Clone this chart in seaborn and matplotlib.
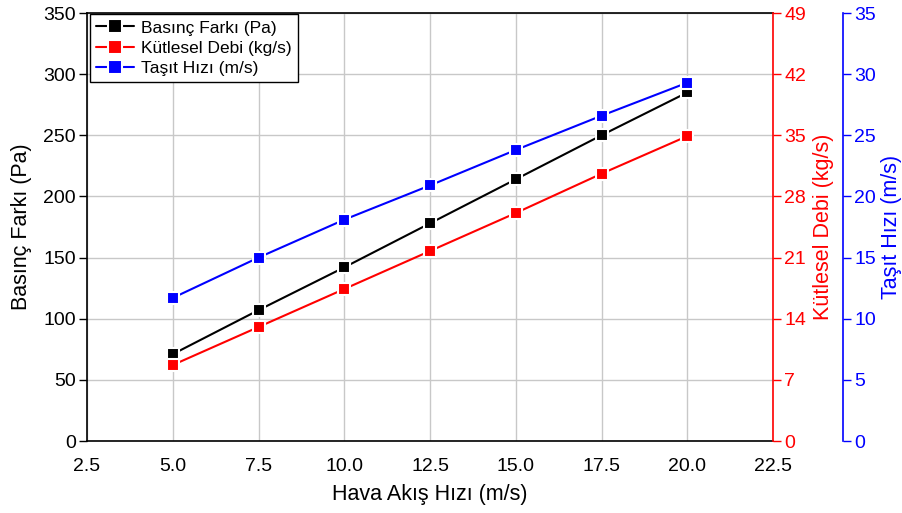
import matplotlib
matplotlib.use("Agg")
import matplotlib.pyplot as plt
import seaborn as sns
import pandas as pd
from matplotlib.lines import Line2D

hava = [5.0, 7.5, 10.0, 12.5, 15.0, 17.5, 20.0]
basinc = [71, 107, 142, 178, 214, 250, 285]
debi = [8.7, 13.05, 17.4, 21.75, 26.1, 30.6, 34.9]
tasit = [11.7, 15.0, 18.1, 20.9, 23.8, 26.6, 29.3]

xticks = [2.5, 5.0, 7.5, 10.0, 12.5, 15.0, 17.5, 20.0, 22.5]
y1ticks = [0, 50, 100, 150, 200, 250, 300, 350]
y2ticks = [0, 7, 14, 21, 28, 35, 42, 49]
y3ticks = [0, 5, 10, 15, 20, 25, 30, 35]

sns.set_style("white")
plt.rcParams['font.family'] = ['Liberation Sans', 'DejaVu Sans']
plt.rcParams['text.color'] = 'black'
plt.rcParams['axes.labelcolor'] = 'black'

df = pd.DataFrame({"hava": hava, "basinc": basinc, "debi": debi, "tasit": tasit})

fig = plt.figure(figsize=(9.02, 5.13), dpi=100)
ax = fig.add_axes([87/902, 1 - 441/513, 686/902, 428/513])
ax2 = ax.twinx()
ax3 = ax.twinx()
ax3.spines['right'].set_position(('axes', 1.102))

mk = dict(marker='s', markersize=8, markeredgecolor='white', markeredgewidth=1.5, linewidth=1.5)
sns.lineplot(data=df, x="hava", y="basinc", ax=ax, color='black', **mk)
sns.lineplot(data=df, x="hava", y="debi", ax=ax2, color='red', **mk)
sns.lineplot(data=df, x="hava", y="tasit", ax=ax3, color='blue', **mk)

ax.set_xlim(2.5, 22.5)
ax.set_ylim(0, 350)
ax2.set_ylim(0, 49)
ax3.set_ylim(0, 35)
ax.set_xticks(xticks)
ax.set_xticklabels([f"{v:.1f}" for v in xticks])
ax.set_yticks(y1ticks)
ax2.set_yticks(y2ticks)
ax3.set_yticks(y3ticks)

ax.grid(True, color='#c8c8c8', linewidth=1)
ax.set_axisbelow(True)

fs = 14
tl = 6
ax.tick_params(axis='both', direction='out', length=tl, width=1, labelsize=fs, colors='black')
ax.tick_params(axis='x', pad=6)
ax.tick_params(axis='y', pad=2)
ax2.tick_params(axis='y', direction='out', length=tl, width=1, labelsize=fs, colors='red', pad=2)
ax3.tick_params(axis='y', direction='out', length=tl, width=1, labelsize=fs, colors='blue', pad=2)

for a in (ax, ax2, ax3):
    for s in a.spines.values():
        s.set_linewidth(1.2)
for side in ('top', 'left', 'bottom'):
    ax.spines[side].set_color('black')
    ax2.spines[side].set_visible(False)
    ax3.spines[side].set_visible(False)
ax2.spines['right'].set_color('red')
ax3.spines['right'].set_color('blue')
ax.spines['right'].set_visible(False)

lfs = 15.5
ax.set_xlabel("Hava Akış Hızı (m/s)", fontsize=lfs, color='black')
ax.set_ylabel("Basınç Farkı (Pa)", fontsize=lfs, color='black')
ax2.set_ylabel("Kütlesel Debi (kg/s)", fontsize=lfs, color='red')
ax3.set_ylabel("Taşıt Hızı (m/s)", fontsize=lfs, color='blue')
ax.xaxis.set_label_coords(0.5, -0.124)
ax.yaxis.set_label_coords(-0.096, 0.5)
ax2.yaxis.set_label_coords(1.074, 0.5)
ax3.yaxis.set_label_coords(1.173, 0.5)
for lab in (ax.xaxis.label, ax.yaxis.label, ax2.yaxis.label, ax3.yaxis.label):
    lab.set_verticalalignment('center')

handles = [Line2D([], [], color=c, marker='s', markersize=10, markeredgecolor='white',
                  markeredgewidth=1.5, markerfacecolor=c, linewidth=1.5)
           for c in ('black', 'red', 'blue')]
labels = ["Basınç Farkı (Pa)", "Kütlesel Debi (kg/s)", "Taşıt Hızı (m/s)"]
leg = ax3.legend(handles, labels, loc='upper left', bbox_to_anchor=(0.004, 0.997), fontsize=12.5,
                 frameon=True, fancybox=False, edgecolor='black', framealpha=1,
                 handlelength=2.2, handletextpad=0.4, borderpad=0.35, labelspacing=0.3,
                 borderaxespad=0)
leg.get_frame().set_linewidth(1.0)
for t in leg.get_texts():
    t.set_color('black')

fig.savefig("out.png", dpi=100)
